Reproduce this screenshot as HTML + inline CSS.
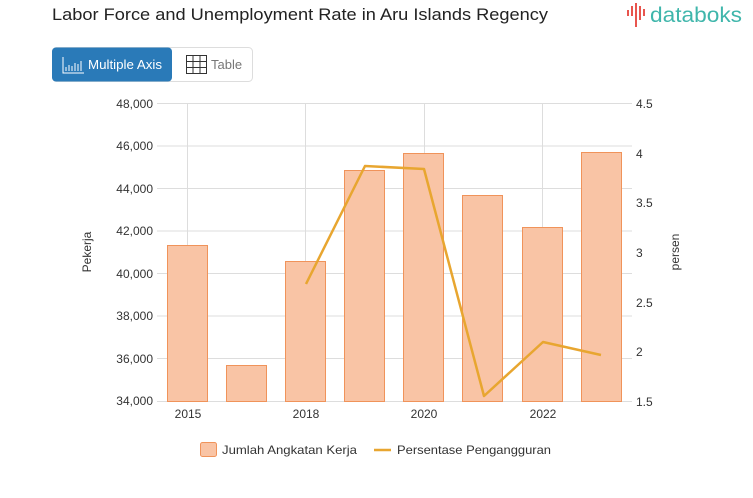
<!DOCTYPE html>
<html><head><meta charset="utf-8"><style>
html,body{margin:0;padding:0;background:#fff;width:753px;height:498px;overflow:hidden}
svg{display:block;font-family:"Liberation Sans",sans-serif}
</style></head><body>
<svg width="753" height="498" viewBox="0 0 753 498">
<text x="52" y="20" font-size="17" fill="#222" textLength="496" lengthAdjust="spacingAndGlyphs">Labor Force and Unemployment Rate in Aru Islands Regency</text>
<g fill="#e8554e">
<rect x="627" y="10" width="2" height="6"/><rect x="631" y="6" width="2" height="10"/><rect x="635" y="3" width="2" height="24"/><rect x="639" y="6" width="2" height="14"/><rect x="643" y="9" width="2" height="7"/>
</g>
<text x="650" y="22" font-size="21" fill="#3fb6ab" textLength="92" lengthAdjust="spacingAndGlyphs">databoks</text>
<rect x="52.5" y="47.5" width="200" height="34" rx="4" fill="#fff" stroke="#ddd"/>
<path d="M56 47.5h112a4 4 0 0 1 4 4v26a4 4 0 0 1 -4 4h-112a4 4 0 0 1 -4 -4v-26a4 4 0 0 1 4 -4z" fill="#2a7ab8"/>
<g stroke="#fff" fill="none" stroke-width="1"><path d="M63 57v16h21"/><path d="M66 71v-4M69 71v-6M72 71v-5M75 71v-8M78 71v-7M81 71v-10"/></g>
<text x="88" y="69" font-size="13" fill="#fff" textLength="74" lengthAdjust="spacingAndGlyphs">Multiple Axis</text>
<g stroke="#333" fill="none" stroke-width="1"><rect x="186.5" y="55.5" width="20" height="18"/><path d="M193 55.5v18M200 55.5v18M186.5 61.5h20M186.5 67.5h20"/></g>
<text x="211" y="69" font-size="13" fill="#777">Table</text>
<g stroke="#ddd" stroke-width="1">
<path d="M157 103.5h475M157 146h475M157 188.5h475M157 231h475M157 273.5h475M157 316h475M157 358.5h475M157 401.5h475"/>
<path d="M187.5 103v298M305.5 103v298M424.5 103v298M542.5 103v298"/>
</g>
<g font-size="12" fill="#333" text-anchor="end">
<text x="153" y="108">48,000</text><text x="153" y="150">46,000</text><text x="153" y="193">44,000</text><text x="153" y="235">42,000</text><text x="153" y="278">40,000</text><text x="153" y="320">38,000</text><text x="153" y="363">36,000</text><text x="153" y="405">34,000</text>
</g>
<g font-size="12" fill="#333">
<text x="636" y="108">4.5</text><text x="636" y="158">4</text><text x="636" y="207">3.5</text><text x="636" y="257">3</text><text x="636" y="307">2.5</text><text x="636" y="356">2</text><text x="636" y="406">1.5</text>
</g>
<g font-size="12" fill="#333" text-anchor="middle">
<text x="188" y="418">2015</text><text x="306" y="418">2018</text><text x="424" y="418">2020</text><text x="543" y="418">2022</text>
</g>
<text transform="translate(91 252) rotate(-90)" font-size="12" fill="#333" text-anchor="middle">Pekerja</text>
<text transform="translate(679 252) rotate(-90)" font-size="12" fill="#333" text-anchor="middle">persen</text>
<g fill="#f9c4a5" stroke="#f0935a" stroke-width="1">
<rect x="167.5" y="245.5" width="40" height="156"/>
<rect x="226.5" y="365.5" width="40" height="36"/>
<rect x="285.5" y="261.5" width="40" height="140"/>
<rect x="344.5" y="170.5" width="40" height="231"/>
<rect x="403.5" y="153.5" width="40" height="248"/>
<rect x="462.5" y="195.5" width="40" height="206"/>
<rect x="522.5" y="227.5" width="40" height="174"/>
<rect x="581.5" y="152.5" width="40" height="249"/>
</g>
<polyline points="306,284 365,166 424,169 484,396 543,342 601,355" fill="none" stroke="#e8a630" stroke-width="2.5" stroke-linejoin="round"/>
<rect x="200.5" y="442.5" width="16" height="14" rx="2" fill="#f9c4a5" stroke="#f0935a"/>
<text x="222" y="454" font-size="12" fill="#333" textLength="135" lengthAdjust="spacingAndGlyphs">Jumlah Angkatan Kerja</text>
<path d="M374 450h17" stroke="#e8a630" stroke-width="2.5"/>
<text x="397" y="454" font-size="12" fill="#333" textLength="154" lengthAdjust="spacingAndGlyphs">Persentase Pengangguran</text>
</svg>
</body></html>
